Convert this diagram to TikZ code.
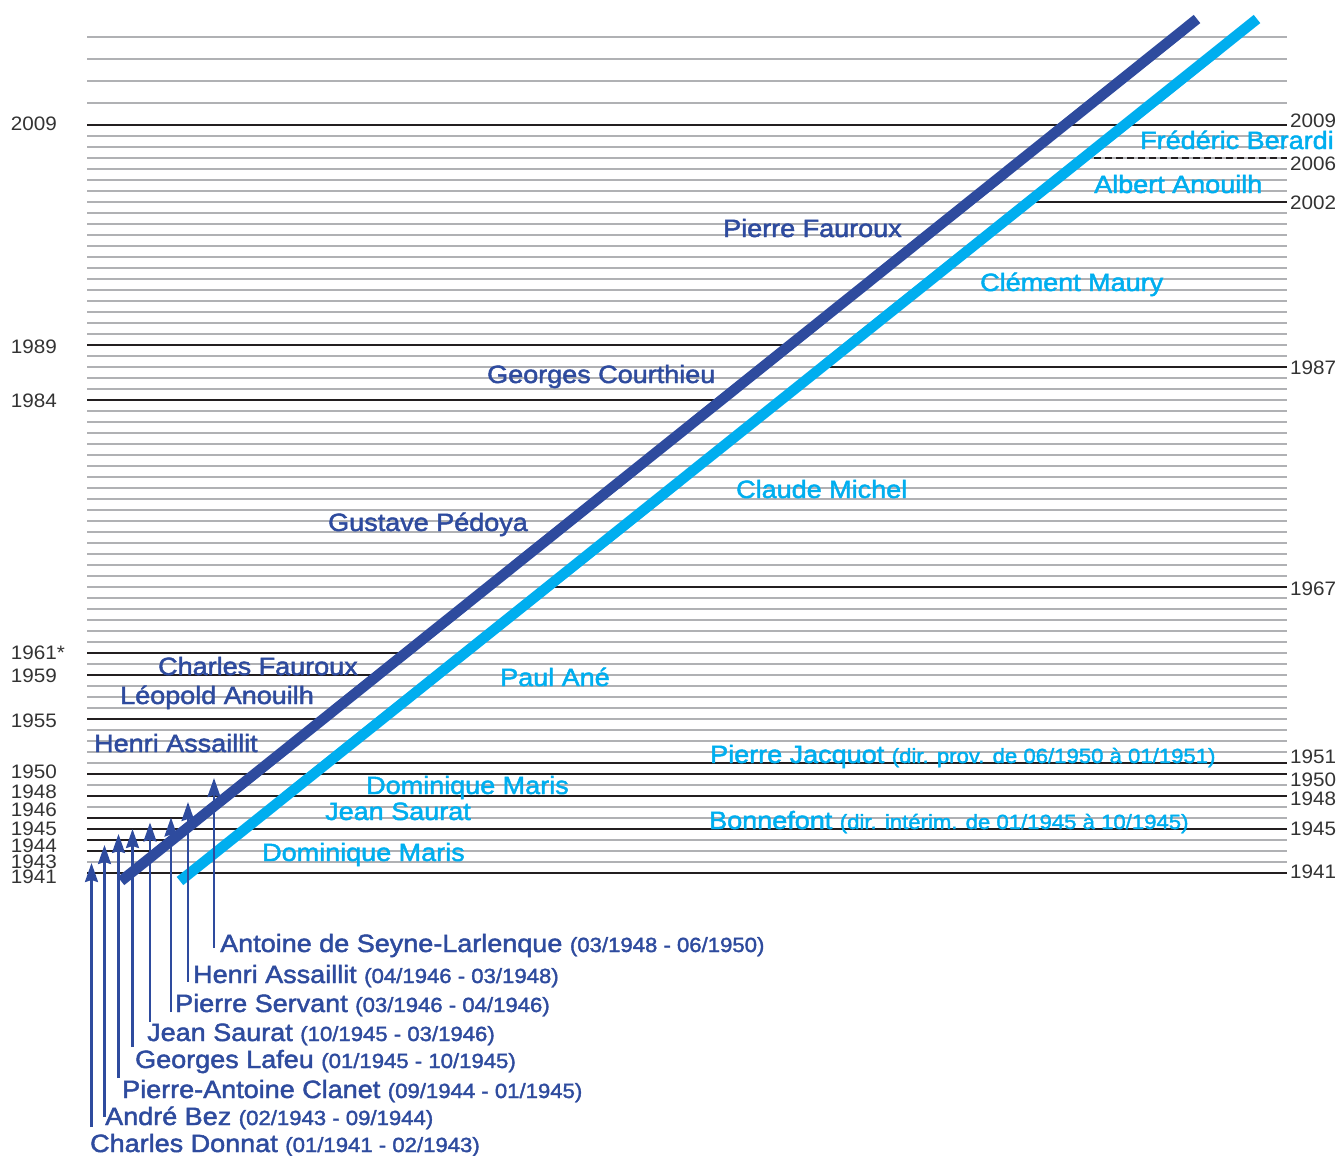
\documentclass[tikz,border=0pt]{standalone}
\usepackage{fontspec}
\setmainfont{Liberation Sans}
\newfontfamily\namefont[FakeBold=1.8,FakeStretch=1.08]{Liberation Sans}
\newfontfamily\yearfont[FakeStretch=1.06]{Liberation Sans}
\usetikzlibrary{arrows.meta}
\definecolor{dblue}{RGB}{46,75,158}
\definecolor{lblue}{RGB}{0,174,239}
\definecolor{lgray}{RGB}{176,177,180}
\definecolor{dline}{RGB}{35,31,32}
\definecolor{ytext}{RGB}{51,51,51}
\newcommand\dt[1]{{\fontsize{20.5}{20.5}\selectfont #1}}
\tikzset{
  gl/.style={draw=lgray, line width=2.7pt},
  bl/.style={draw=dline, line width=2.7pt},
  band/.style={line width=10.5pt},
  nm/.style={font=\namefont\fontsize{25}{25}\selectfont, inner sep=0pt, anchor=base west},
  dname/.style={nm, text=dblue},
  lname/.style={nm, text=lblue},
  yl/.style={text=ytext, font=\yearfont\fontsize{19.5}{19.5}\selectfont, inner sep=0pt},
  ylL/.style={yl, anchor=base east},
  ylR/.style={yl, anchor=base west},
  arr/.style={draw=dblue, line width=2.3pt, -{Stealth[length=19pt,width=13pt,inset=2pt]}},
}
\begin{document}
\begin{tikzpicture}[x=1pt, y=-1pt,
  declare function={yy(\t)=873-11*(\t-1941);
                    xd(\t)=121+(881-yy(\t))*1.2483;
                    xl(\t)=180+(881-yy(\t))*1.2494;}]
\useasboundingbox (0,0) rectangle (1341,1156);

% gray year lines
\foreach \yr in {1941,...,2009,2011,2013,2015,2017}
  \draw[gl] (87,{yy(\yr)}) -- (1287,{yy(\yr)});

% full black lines
\foreach \yr in {2009,1950,1948,1945,1941}
  \draw[bl] (87,{yy(\yr)}) -- (1287,{yy(\yr)});
% left series black lines (to dark band)
\foreach \yr in {1989,1984,1961,1959,1955,1946,1944,1943}
  \draw[bl] (87,{yy(\yr)}) -- ({xd(\yr)},{yy(\yr)});
% right series black lines (from light band)
\foreach \yr in {2002,1987,1967,1951}
  \draw[bl] ({xl(\yr)},{yy(\yr)}) -- (1287,{yy(\yr)});
\draw[bl, dash pattern=on 7pt off 4pt] ({xl(2006)},{yy(2006)}) -- (1287,{yy(2006)});

% bands
\coordinate (d0) at (121,881); \coordinate (d1) at (1197,19);
\coordinate (l0) at (180,881); \coordinate (l1) at (1257,19);
\draw[band, draw=dblue] (d0) -- (d1);
\draw[band, draw=lblue] (l0) -- (l1);

% left year labels
\node[ylL] (y2009) at (57,130) {2009};
\node[ylL] (y1989) at (57,353) {1989};
\node[ylL] (y1984) at (57,407) {1984};
\node[ylL] (y1961) at (57,659) {1961\rlap{*}};
\node[ylL] (y1959) at (57,682) {1959};
\node[ylL] (y1955) at (57,727) {1955};
\node[ylL] (y1950) at (57,778) {1950};
\node[ylL] (y1948) at (57,798) {1948};
\node[ylL] (y1946) at (57,816) {1946};
\node[ylL] (y1945) at (57,835) {1945};
\node[ylL] (y1944) at (57,852.5) {1944};
\node[ylL] (y1943) at (57,868.5) {1943};
\node[ylL] (y1941) at (57,883.5) {1941};

% right year labels
\node[ylR] (r2009) at (1290,127) {2009};
\node[ylR] (r2006) at (1290,170) {2006};
\node[ylR] (r2002) at (1290,209) {2002};
\node[ylR] (r1987) at (1290,374) {1987};
\node[ylR] (r1967) at (1290,595) {1967};
\node[ylR] (r1951) at (1290,763.5) {1951};
\node[ylR] (r1950) at (1290,786.5) {1950};
\node[ylR] (r1948) at (1290,805) {1948};
\node[ylR] (r1945) at (1290,835) {1945};
\node[ylR] (r1941) at (1290,878.5) {1941};

% dark blue names
\node[dname] (n1) at (723,237) {Pierre Fauroux};
\node[dname] (n2) at (487,383) {Georges Courthieu};
\node[dname] (n3) at (328,531) {Gustave Pédoya};
\node[dname] (n4) at (158,675) {Charles Fauroux};
\node[dname] (n5) at (120,704) {Léopold Anouilh};
\node[dname] (n6) at (94,752) {Henri Assaillit};

% light blue names
\node[lname] (m1) at (1140,149) {Frédéric Berardi};
\node[lname] (m2) at (1094,193) {Albert Anouilh};
\node[lname] (m3) at (980,291) {Clément Maury};
\node[lname] (m4) at (736,498) {Claude Michel};
\node[lname] (m5) at (500,686) {Paul Ané};
\node[lname] (m6) at (710,763) {Pierre Jacquot \dt{(dir. prov. de 06/1950 à 01/1951)}};
\node[lname] (m7) at (366,794) {Dominique Maris};
\node[lname] (m8) at (325,820) {Jean Saurat};
\node[lname] (m9) at (709,829) {Bonnefont \dt{(dir. intérim. de 01/1945 à 10/1945)}};
\node[lname] (m10) at (262,861) {Dominique Maris};

% bottom labels
\node[dname] (b1) at (220,952) {Antoine de Seyne-Larlenque \dt{(03/1948 - 06/1950)}};
\node[dname] (b2) at (193,983) {Henri Assaillit \dt{(04/1946 - 03/1948)}};
\node[dname] (b3) at (175,1012) {Pierre Servant \dt{(03/1946 - 04/1946)}};
\node[dname] (b4) at (147,1041) {Jean Saurat \dt{(10/1945 - 03/1946)}};
\node[dname] (b5) at (135,1068) {Georges Lafeu \dt{(01/1945 - 10/1945)}};
\node[dname] (b6) at (122,1098) {Pierre-Antoine Clanet \dt{(09/1944 - 01/1945)}};
\node[dname] (b7) at (105,1125) {André Bez \dt{(02/1943 - 09/1944)}};
\node[dname] (b8) at (90,1152) {Charles Donnat \dt{(01/1941 - 02/1943)}};

% arrows
\coordinate (e1) at (214,948);   \coordinate (t1) at (214,778);
\coordinate (e2) at (188,982);   \coordinate (t2) at (188,802);
\coordinate (e3) at (171,1012);  \coordinate (t3) at (171,817.5);
\coordinate (e4) at (150,1022);  \coordinate (t4) at (150,822.5);
\coordinate (e5) at (132.5,1047);\coordinate (t5) at (132.5,829);
\coordinate (e6) at (118.5,1078);\coordinate (t6) at (118.5,834);
\coordinate (e7) at (104.5,1117);\coordinate (t7) at (104.5,845);
\coordinate (e8) at (91.5,1127); \coordinate (t8) at (91.5,863);
\foreach \i in {1,...,8} \draw[arr] (e\i) -- (t\i);
\end{tikzpicture}
\end{document}
